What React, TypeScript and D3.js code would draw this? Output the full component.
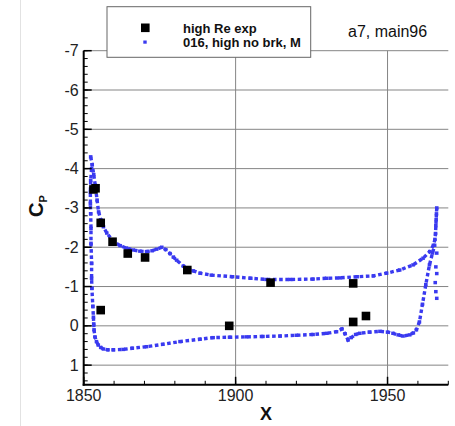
import React from "react";
import * as d3 from "d3";

// Experimental data: [x, Cp]
const expX = [1853.2, 1853.9, 1855.6, 1859.5, 1864.5, 1870.2, 1884.1, 1911.5, 1938.7, 1855.6, 1897.9, 1938.7, 1942.9];
const expCp = [-3.47, -3.5, -2.62, -2.14, -1.84, -1.74, -1.42, -1.1, -1.08, -0.4, 0.0, -0.1, -0.25];

// CFD upper surface (LE -> TE)
const upperX = [1852.3, 1852.8, 1853.3, 1853.8, 1854.4, 1854.9, 1855.6, 1856.5, 1857.6, 1859.7, 1862, 1864, 1866.3, 1868.5, 1870.7, 1872.5, 1874, 1875.7, 1877, 1878.4, 1879.5, 1880.6, 1882.8, 1886, 1888.3, 1892, 1899, 1905, 1910, 1918, 1925.5, 1930, 1934.3, 1940, 1945.3, 1949.7, 1954, 1958.4, 1961.7, 1963.9, 1965.1, 1965.6, 1965.8, 1965.9, 1966.0, 1966.1, 1966.2];
const upperCp = [-4.3, -4.1, -3.85, -3.58, -3.2, -2.9, -2.7, -2.52, -2.36, -2.15, -2.04, -1.98, -1.93, -1.9, -1.89, -1.91, -1.95, -2.0, -1.94, -1.84, -1.75, -1.67, -1.52, -1.4, -1.34, -1.29, -1.25, -1.21, -1.18, -1.18, -1.19, -1.21, -1.22, -1.25, -1.27, -1.34, -1.42, -1.55, -1.72, -1.89, -2.05, -2.2, -2.35, -2.55, -2.7, -2.85, -3.0];

// CFD lower surface (LE -> TE)
const lowerX = [1852.6, 1852.3, 1852.2, 1852.2, 1852.3, 1852.4, 1852.4, 1852.6, 1852.6, 1852.7, 1853.0, 1853.2, 1853.3, 1853.4, 1853.7, 1854.2, 1854.8, 1855.6, 1856.5, 1858, 1859.7, 1863, 1866, 1870.7, 1876, 1881.7, 1888.3, 1892.6, 1898, 1903.6, 1909, 1914.6, 1920, 1925.5, 1930, 1933.2, 1935, 1936, 1937, 1938, 1939.5, 1940.9, 1944, 1947.5, 1950, 1951.8, 1953.5, 1955.1, 1957.3, 1958.5, 1959.5, 1960.5, 1961.5, 1962.6, 1963.8, 1964.8, 1965.5];
const lowerCp = [-4.0, -3.7, -3.4, -3.1, -2.85, -2.48, -2.1, -1.59, -1.21, -0.95, -0.5, -0.22, -0.05, 0.1, 0.28, 0.4, 0.49, 0.55, 0.59, 0.61, 0.61, 0.6, 0.57, 0.53, 0.47, 0.4, 0.34, 0.3, 0.29, 0.28, 0.27, 0.26, 0.24, 0.22, 0.19, 0.15, 0.08, 0.2, 0.36, 0.3, 0.22, 0.19, 0.16, 0.14, 0.16, 0.19, 0.23, 0.26, 0.23, 0.18, 0.1, -0.1, -0.55, -1.05, -1.55, -1.85, -2.05];

// scattered CFD points at trailing edge
const teX = [1966.2, 1965.9, 1966.2, 1965.7, 1965.9, 1966.2];
const teCp = [-1.85, -1.5, -1.33, -1.1, -0.87, -0.7];

const xMajor = [1850, 1900, 1950];
const yMajor = [-7, -6, -5, -4, -3, -2, -1, 0, 1];
const xGrid = [1900, 1950];

const BLUE = "#3a3af0";
const FONT = "Liberation Sans, Arial, Helvetica, sans-serif";

export default function App() {
  const x = d3.scaleLinear().domain([1850, 1970]).range([83.7, 448.3]);
  const y = d3.scaleLinear().domain([-7, 1.5]).range([50.7, 384.8]);
  const x0 = x(1850), x1 = x(1970), yTop = y(-7), yBot = y(1.5);

  const upper = upperX.map((v, i) => [v, upperCp[i]] as [number, number]);
  const lower = lowerX.map((v, i) => [v, lowerCp[i]] as [number, number]);
  const te = teX.map((v, i) => [v, teCp[i]] as [number, number]);
  const exp = expX.map((v, i) => [v, expCp[i]] as [number, number]);

  const line = d3.line<[number, number]>().x(d => x(d[0])).y(d => y(d[1]));

  const xMinor = d3.range(1850, 1971, 10);
  const yMinor = d3.range(0, 43).map(i => -7 + i * 0.2);

  const dot = (d: [number, number], k: string) => (
    <rect key={k} x={x(d[0]) - 1.8} y={y(d[1]) - 1.7} width={3.6} height={3.4} fill={BLUE} />
  );

  return (
    <svg width={455} height={426} style={{ position: "absolute", left: 0, top: 0, background: "#fff" }} fontFamily={FONT}>
      <rect x={0} y={0} width={455} height={426} fill="#fff" />
      <line x1={20.5} x2={20.5} y1={0} y2={426} stroke="#e2e2e2" strokeWidth={1} />
      {/* gridlines */}
      {yMajor.map(v => (
        <line key={"gy" + v} x1={x0} x2={x1} y1={y(v)} y2={y(v)} stroke="#858585" strokeWidth={1} />
      ))}
      {xGrid.map(v => (
        <line key={"gx" + v} x1={x(v)} x2={x(v)} y1={yTop} y2={yBot} stroke="#858585" strokeWidth={1} />
      ))}
      {/* CFD */}
      <path d={line(upper) || ""} fill="none" stroke={BLUE} strokeWidth={3.4} strokeDasharray="3.6 2.6" />
      <path d={line(lower) || ""} fill="none" stroke={BLUE} strokeWidth={3.4} strokeDasharray="3.6 2.6" />
      {upper.map((d, i) => dot(d, "u" + i))}
      {lower.map((d, i) => dot(d, "l" + i))}
      {te.map((d, i) => dot(d, "t" + i))}
      {/* experiment */}
      {exp.map((d, i) => (
        <rect key={"e" + i} x={x(d[0]) - 4.3} y={y(d[1]) - 4.3} width={8.6} height={8.6} fill="#000" />
      ))}
      {/* axes */}
      <line x1={x0} x2={x0} y1={yTop} y2={yBot + 1} stroke="#000" strokeWidth={2} />
      <line x1={x0 - 1} x2={x1} y1={yBot} y2={yBot} stroke="#000" strokeWidth={2} />
      {yMinor.map((v, i) => (
        <line key={"ym" + i} x1={x0} x2={x0 + 4} y1={y(v)} y2={y(v)} stroke="#000" strokeWidth={1} />
      ))}
      {yMajor.map(v => (
        <line key={"yM" + v} x1={x0} x2={x0 + 8} y1={y(v)} y2={y(v)} stroke="#000" strokeWidth={1.5} />
      ))}
      {xMinor.map(v => (
        <line key={"xm" + v} x1={x(v)} x2={x(v)} y1={yBot} y2={yBot - 4} stroke="#000" strokeWidth={1} />
      ))}
      {xMajor.map(v => (
        <line key={"xM" + v} x1={x(v)} x2={x(v)} y1={yBot} y2={yBot - 8} stroke="#000" strokeWidth={1.5} />
      ))}
      {yMajor.map(v => (
        <text key={"yl" + v} x={x0 - 5} y={y(v) + 5.5} textAnchor="end" fontSize={16} fill="#222">{v}</text>
      ))}
      {xMajor.map(v => (
        <text key={"xl" + v} x={x(v)} y={401} textAnchor="middle" fontSize={16} fill="#222">{v}</text>
      ))}
      <text x={(x0 + x1) / 2} y={420} textAnchor="middle" fontSize={18} fontWeight="bold" fill="#111">X</text>
      <text transform="translate(43,206) rotate(-90)" textAnchor="middle" fontWeight="bold" fill="#111">
        <tspan fontSize={20}>C</tspan>
        <tspan fontSize={11} dy={4}>P</tspan>
      </text>
      {/* legend */}
      <rect x={107} y={6.7} width={203.7} height={50.6} fill="#fff" stroke="#666" strokeWidth={1} />
      <rect x={141} y={23.5} width={8.6} height={8.6} fill="#000" />
      <rect x={143.3} y={40.5} width={3.4} height={3.2} fill={BLUE} />
      <text x={183} y={32.5} fontSize={13} fontWeight="bold" fill="#111">high Re exp</text>
      <text x={183} y={47} fontSize={13} fontWeight="bold" fill="#111">016, high no brk, M</text>
      <text x={348} y={36.5} fontSize={16} fill="#111">a7, main96</text>
    </svg>
  );
}
